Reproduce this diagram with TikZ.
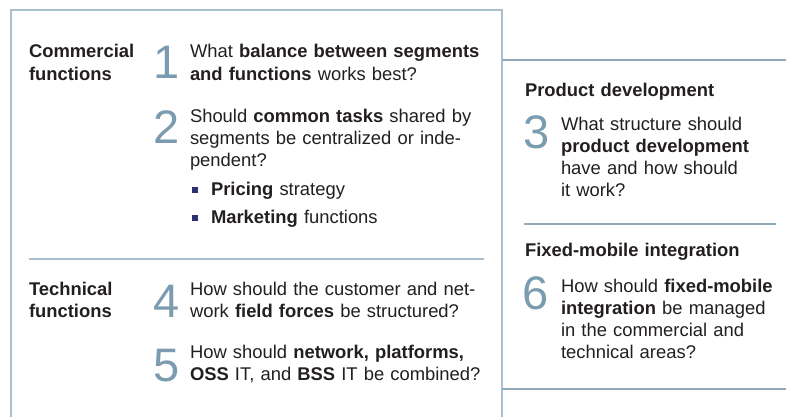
\documentclass[tikz,border=0pt]{standalone}
\usepackage{fontspec}
\setmainfont{Liberation Sans}
\usepackage{tikz}
\usetikzlibrary{positioning}
\definecolor{framecol}{HTML}{A9BFCD}
\definecolor{rulecol}{HTML}{8EA9BA}
\definecolor{numcol}{HTML}{7A9BB0}
\definecolor{bulcol}{HTML}{2C3270}
\definecolor{txtcol}{HTML}{231F20}

\begin{document}
\begin{tikzpicture}[x=1pt, y=-1pt,
            every node/.style={inner sep=0pt, outer sep=0pt, text=txtcol},
            txt/.style={anchor=base west, align=left, text width=295pt, font=\fontsize{18.4}{22.2}\selectfont},
            rtxt/.style={txt, text width=215pt},
            lbl/.style={txt, text width=250pt, font=\fontsize{18.4}{22.2}\selectfont\bfseries},
            num/.style={anchor=base west, text=numcol, font=\fontsize{47}{47}\selectfont},
            sq/.style={fill=bulcol, minimum size=5.5pt},
            frame/.style={draw=framecol, line width=1.6pt},
            rule/.style={draw=rulecol, line width=1.3pt}]
            \useasboundingbox (0,0) rectangle (786,417);
            \fill[white] (0,0) rectangle (786,417);
            % panel lines
            \draw[frame] (11,417) -- (11,10) -- (502,10) -- (502,417);
            \draw[rule] (502,60) -- (786,60);
            \draw[rule, draw=framecol] (29,259) -- (484,259);
            \draw[rule] (524,224) -- (776,224);
            \draw[rule, line width=2pt] (502,389) -- (786,389);
            % commercial
            \node[lbl, text width=120pt] (lcom) at (29,58) {Commercial\\functions};
            \node[num] (n1) at (153,79) {1};
            \node[txt] (q1) at (190,58) {What \textbf{balance between segments}\\\textbf{and functions} works best?};
            \node[num] (n2) at (153,143) {2};
            \node[txt] (q2) at (190,122) {Should \textbf{common tasks} shared by\\segments be centralized or inde-\\pendent?};
            \node[sq] (b1) at (195,190) {};
            \node[txt] (p1) at (211,195) {\textbf{Pricing} strategy};
            \node[sq] (b2) at (195,218) {};
            \node[txt] (p2) at (211,223) {\textbf{Marketing} functions};
            % technical
            \node[lbl, text width=120pt] (ltec) at (29,295) {Technical\\functions};
            \node[num] (n4) at (153,317) {4};
            \node[txt] (q4) at (190,295) {How should the customer and net-\\work \textbf{field forces} be structured?};
            \node[num] (n5) at (153,381) {5};
            \node[txt] (q5) at (190,358) {How should \textbf{network, platforms,}\\\textbf{OSS} IT, and \textbf{BSS} IT be combined?};
            % right column
            \node[lbl] (lprod) at (525,96) {Product development};
            \node[num] (n3) at (523,148) {3};
            \node[rtxt] (q3) at (561,130) {What structure should\\\textbf{product development}\\have and how should\\it work?};
            \node[lbl] (lfmi) at (525,256) {Fixed-mobile integration};
            \node[num] (n6) at (522,309) {6};
            \node[rtxt] (q6) at (561,292) {How should \textbf{fixed-mobile}\\\textbf{integration} be managed\\in the commercial and\\technical areas?};
        \end{tikzpicture}
\end{document}
